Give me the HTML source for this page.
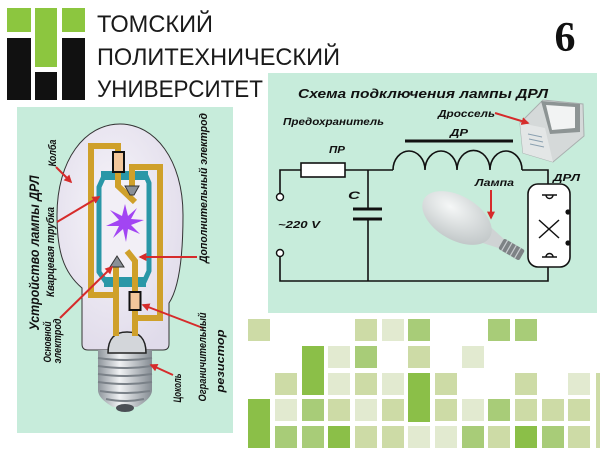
<!DOCTYPE html>
<html><head><meta charset="utf-8"><style>
html,body{margin:0;padding:0;background:#fff;}
svg{display:block;}
text{font-family:"Liberation Sans","DejaVu Sans",sans-serif;}
.bi{font-weight:bold;font-style:italic;fill:#111;}
</style></head><body>
<svg width="600" height="450" viewBox="0 0 600 450" xmlns="http://www.w3.org/2000/svg">
<defs>
<marker id="ar" viewBox="0 0 10 10" refX="8" refY="5" markerWidth="4" markerHeight="4" orient="auto"><path d="M0,0 L10,5 L0,10 z" fill="#d62b2b"/></marker>
<radialGradient id="bulbg" cx="0.45" cy="0.4" r="0.65"><stop offset="0" stop-color="#f7f5fa"/><stop offset="1" stop-color="#e0dbea"/></radialGradient>
<linearGradient id="thr" x1="0" y1="0" x2="1" y2="0"><stop offset="0" stop-color="#8e959c"/><stop offset="0.4" stop-color="#f0f2f4"/><stop offset="1" stop-color="#858c93"/></linearGradient>
<radialGradient id="lampg" cx="0.35" cy="0.35" r="0.75"><stop offset="0" stop-color="#f5f7f7"/><stop offset="1" stop-color="#bfc5c6"/></radialGradient>
</defs>

<!-- Logo -->
<rect x="7" y="8" width="24" height="24" fill="#8cc63f"/>
<rect x="35" y="8" width="22" height="59" fill="#8cc63f"/>
<rect x="62" y="8" width="23" height="24" fill="#8cc63f"/>
<rect x="7" y="38" width="24" height="62" fill="#111"/>
<rect x="35" y="72" width="22" height="28" fill="#111"/>
<rect x="62" y="38" width="23" height="62" fill="#111"/>
<text x="97" y="32" font-size="24" fill="#1a1a1a" textLength="116" lengthAdjust="spacingAndGlyphs">ТОМСКИЙ</text>
<text x="97" y="65" font-size="24" fill="#1a1a1a" textLength="243" lengthAdjust="spacingAndGlyphs">ПОЛИТЕХНИЧЕСКИЙ</text>
<text x="97" y="97" font-size="24" fill="#1a1a1a" textLength="166" lengthAdjust="spacingAndGlyphs">УНИВЕРСИТЕТ</text>
<text x="565" y="51" font-weight="bold" font-size="42" text-anchor="middle" fill="#111" style="font-family:'Liberation Serif',serif">6</text>

<!-- Panels -->
<rect x="17" y="107" width="216" height="326" fill="#c7ecdb"/>
<rect x="268" y="73" width="329" height="240" fill="#c7ecdb"/>

<!-- Left: bulb -->
<path d="M88,350 Q82,350 82,344 L82,288 C63,272 57,250 57,215 C57,160 85,124 120,124 C155,124 183,160 183,215 C183,258 179,288 169,303 L169,344 Q169,350 163,350 Z" fill="url(#bulbg)" stroke="#333" stroke-width="1"/>
<!-- base -->
<path d="M98,350 H152 V390 C152,398 142,404 137,407 H113 C108,404 98,398 98,390 Z" fill="url(#thr)"/>
<g stroke="#7a8188" stroke-width="2" fill="none">
<path d="M98,358 Q125,362 152,358"/><path d="M98,366 Q125,370 152,366"/><path d="M98,374 Q125,378 152,374"/><path d="M98,382 Q125,386 152,382"/><path d="M100,391 Q125,395 150,391"/><path d="M106,399 Q125,403 144,399"/>
</g>
<ellipse cx="125" cy="408" rx="9" ry="4" fill="#4a4f55"/>
<path d="M108,353 C108,339 114,332 127,332 C140,332 146,339 146,353 Z" fill="#d3d6da" stroke="#222" stroke-width="1.5"/>

<!-- quartz tube -->
<polygon points="104,176 146,176 149,183 149,271 144,282 106,282 99,272 99,187" fill="#f2eff6" stroke="#2a97a7" stroke-width="5" stroke-linejoin="round"/>
<rect x="101" y="171" width="47" height="9" fill="#2a97a7"/>
<rect x="104" y="277" width="42" height="10" fill="#2a97a7"/>

<!-- gold wires -->
<g fill="none" stroke="#cfa02a" stroke-width="6">
<path d="M118,152 V146 H91 V295 H116"/>
<path d="M118,172 V186 L135,202"/>
<path d="M132,188 V167 H160 V318 H135"/>
<path d="M116,266 V336"/>
<path d="M127,251 L135,261 V292"/>
<path d="M135,310 V336"/>
</g>
<rect x="113" y="152" width="11" height="20" fill="#f3c79b" stroke="#111" stroke-width="2"/>
<rect x="129.5" y="292" width="11" height="18" fill="#f3c79b" stroke="#111" stroke-width="2"/>
<!-- electrodes -->
<polygon points="125,186 139,186 134,195 130,195" fill="#8a9097" stroke="#333" stroke-width="1"/>
<polygon points="117,256 124,267 110,267" fill="#8a9097" stroke="#333" stroke-width="1"/>
<!-- star -->
<polygon points="125,204 128,216 137,208 131,219 144,220 131,225 140,234 128,229 126,242 123,229 113,238 119,226 106,226 119,220 110,210 122,216" fill="#a245f3"/>

<!-- red arrows left -->
<g stroke="#d62b2b" stroke-width="2" fill="none" marker-end="url(#ar)">
<line x1="56" y1="167" x2="71" y2="182"/>
<line x1="57" y1="222" x2="99" y2="197"/>
<line x1="60" y1="318" x2="112" y2="267"/>
<line x1="197" y1="257" x2="140" y2="257"/>
<line x1="203" y1="328" x2="143" y2="305"/>
<line x1="173" y1="375" x2="151" y2="365"/>
</g>

<!-- left texts -->
<text class="bi" font-size="14" text-anchor="middle" dy="0.35em" transform="translate(34,253) rotate(-90)" textLength="155" lengthAdjust="spacingAndGlyphs">Устройство лампы ДРЛ</text>
<text class="bi" font-size="11" text-anchor="middle" dy="0.35em" transform="translate(50,252) rotate(-90)" textLength="90" lengthAdjust="spacingAndGlyphs">Кварцевая трубка</text>
<text class="bi" font-size="11" text-anchor="middle" dy="0.35em" transform="translate(52,153) rotate(-90)" textLength="27" lengthAdjust="spacingAndGlyphs">Колба</text>
<text class="bi" font-size="11" text-anchor="middle" dy="0.35em" transform="translate(47,342) rotate(-90)" textLength="41" lengthAdjust="spacingAndGlyphs">Основной</text>
<text class="bi" font-size="11" text-anchor="middle" dy="0.35em" transform="translate(57,341) rotate(-90)" textLength="45" lengthAdjust="spacingAndGlyphs">электрод</text>
<text class="bi" font-size="11" text-anchor="middle" dy="0.35em" transform="translate(203,188) rotate(-90)" textLength="150" lengthAdjust="spacingAndGlyphs">Дополнительный электрод</text>
<text class="bi" font-size="11" text-anchor="middle" dy="0.35em" transform="translate(202,357) rotate(-90)" textLength="89" lengthAdjust="spacingAndGlyphs">Ограничительный</text>
<text class="bi" font-size="11" text-anchor="middle" dy="0.35em" transform="translate(220,361) rotate(-90)" textLength="63" lengthAdjust="spacingAndGlyphs">резистор</text>
<text class="bi" font-size="11" text-anchor="middle" dy="0.35em" transform="translate(177,388) rotate(-90)" textLength="29" lengthAdjust="spacingAndGlyphs">Цоколь</text>

<!-- Right: circuit -->
<text class="bi" x="298" y="98" font-size="12.5" textLength="250" lengthAdjust="spacingAndGlyphs">Схема подключения лампы ДРЛ</text>
<text class="bi" x="283" y="125" font-size="10" textLength="101" lengthAdjust="spacingAndGlyphs">Предохранитель</text>
<text class="bi" x="438" y="117" font-size="10" textLength="57" lengthAdjust="spacingAndGlyphs">Дроссель</text>
<text class="bi" x="450" y="136" font-size="10" textLength="18" lengthAdjust="spacingAndGlyphs">ДР</text>
<text class="bi" x="329" y="153" font-size="10" textLength="16" lengthAdjust="spacingAndGlyphs">ПР</text>
<text class="bi" x="348" y="199" font-size="11" textLength="12" lengthAdjust="spacingAndGlyphs">С</text>
<text class="bi" x="278" y="228" font-size="10" textLength="42" lengthAdjust="spacingAndGlyphs">~220 V</text>
<text class="bi" x="475" y="186" font-size="10" textLength="39" lengthAdjust="spacingAndGlyphs">Лампа</text>
<text class="bi" x="553" y="181" font-size="10" textLength="27" lengthAdjust="spacingAndGlyphs">ДРЛ</text>

<g stroke="#111" stroke-width="1.6" fill="none">
<path d="M280,193.5 V170 H301"/>
<path d="M345,170 H393"/>
<path d="M393,170 A16,19 0 0 1 425,170 A16,19 0 0 1 457,170 A16,19 0 0 1 490,170 A16,19 0 0 1 522,170"/>
<path d="M522,170 H548 V184"/>
<path d="M548,267 V281 H280 V256.5"/>
<path d="M368,170 V209"/>
<path d="M368,219 V281"/>
</g>
<line x1="405" y1="141" x2="513" y2="141" stroke="#111" stroke-width="3"/>
<line x1="353" y1="209" x2="382" y2="209" stroke="#111" stroke-width="3"/>
<line x1="353" y1="219" x2="382" y2="219" stroke="#111" stroke-width="3"/>
<rect x="301" y="163" width="44" height="14" fill="#fff" stroke="#111" stroke-width="1.6"/>
<circle cx="280" cy="197" r="3.5" fill="#fff" stroke="#111" stroke-width="1.4"/>
<circle cx="280" cy="253" r="3.5" fill="#fff" stroke="#111" stroke-width="1.4"/>

<!-- DRL symbol -->
<rect x="528" y="184" width="42" height="83" rx="10" fill="#fff" stroke="#111" stroke-width="1.6"/>
<g stroke="#111" stroke-width="1.5" fill="none">
<line x1="542" y1="195" x2="557" y2="195"/>
<path d="M546,195 A3.5,3.5 0 1 0 553,195"/>
<line x1="539" y1="220" x2="559" y2="238"/>
<line x1="559" y1="220" x2="539" y2="238"/>
<path d="M546,257 A3.5,3.5 0 1 1 553,257"/>
<line x1="542" y1="257" x2="557" y2="257"/>
</g>
<circle cx="568" cy="212" r="2.6" fill="#111"/>
<circle cx="568" cy="243" r="2.6" fill="#111"/>

<!-- lamp photo -->
<g transform="translate(457,218) rotate(30)">
<path d="M34,-9 L52,-5 L52,5 L34,9 Z" fill="#cfd3d4"/>
<rect x="51" y="-6" width="24" height="12" rx="2" fill="#7d8285"/>
<g stroke="#c9cdd0" stroke-width="1.2"><line x1="55" y1="-6" x2="55" y2="6"/><line x1="60" y1="-6" x2="60" y2="6"/><line x1="65" y1="-6" x2="65" y2="6"/><line x1="70" y1="-6" x2="70" y2="6"/></g>
<ellipse cx="0" cy="0" rx="38" ry="22" fill="url(#lampg)"/>
</g>

<!-- choke photo -->
<polygon points="520,123 543,100 583,104 584,136 553,162 523,153" fill="#d5d9d9" stroke="#a9afaf" stroke-width="1"/>
<polygon points="520,123 545,128 553,162 523,153" fill="#e3e6e6"/>
<polygon points="541,101 580,104 580,132 550,134" fill="#8d9494"/>
<polygon points="546,105 575,107 575,128 552,130" fill="#f2f3f3"/>
<g stroke="#8aa0b0" stroke-width="1"><line x1="528" y1="134" x2="542" y2="137"/><line x1="529" y1="139" x2="543" y2="142"/><line x1="530" y1="144" x2="544" y2="147"/></g>

<g stroke="#d62b2b" stroke-width="2" fill="none" marker-end="url(#ar)">
<line x1="495" y1="113" x2="528" y2="123"/>
<line x1="491" y1="190" x2="491" y2="218"/>
</g>

<!-- green grid -->
<g>
<rect x="248" y="319" width="22" height="22" fill="#cddba6"/>
<rect x="355" y="319" width="22" height="22" fill="#cddba6"/>
<rect x="382" y="319" width="22" height="22" fill="#e2ead0"/>
<rect x="408" y="319" width="22" height="22" fill="#a8cc78"/>
<rect x="488" y="319" width="22" height="22" fill="#a8cc78"/>
<rect x="515" y="319" width="22" height="22" fill="#a8cc78"/>

<rect x="302" y="346" width="22" height="49" fill="#8bbf48"/>
<rect x="328" y="346" width="22" height="22" fill="#e2ead0"/>
<rect x="355" y="346" width="22" height="22" fill="#a8cc78"/>
<rect x="408" y="346" width="22" height="22" fill="#cddba6"/>
<rect x="462" y="346" width="22" height="22" fill="#e2ead0"/>

<rect x="275" y="373" width="22" height="22" fill="#cddba6"/>
<rect x="328" y="373" width="22" height="22" fill="#e2ead0"/>
<rect x="355" y="373" width="22" height="22" fill="#cddba6"/>
<rect x="382" y="373" width="22" height="22" fill="#e2ead0"/>
<rect x="408" y="373" width="22" height="49" fill="#8bbf48"/>
<rect x="435" y="373" width="22" height="22" fill="#cddba6"/>
<rect x="515" y="373" width="22" height="22" fill="#cddba6"/>
<rect x="568" y="373" width="22" height="22" fill="#e2ead0"/>
<rect x="596" y="373" width="4" height="75" fill="#cddba6"/>

<rect x="248" y="399" width="22" height="49" fill="#8bbf48"/>
<rect x="275" y="399" width="22" height="22" fill="#e2ead0"/>
<rect x="302" y="399" width="22" height="22" fill="#a8cc78"/>
<rect x="328" y="399" width="22" height="22" fill="#cddba6"/>
<rect x="355" y="399" width="22" height="22" fill="#e2ead0"/>
<rect x="382" y="399" width="22" height="22" fill="#cddba6"/>
<rect x="435" y="399" width="22" height="22" fill="#cddba6"/>
<rect x="462" y="399" width="22" height="22" fill="#e2ead0"/>
<rect x="488" y="399" width="22" height="22" fill="#a8cc78"/>
<rect x="515" y="399" width="22" height="22" fill="#cddba6"/>
<rect x="542" y="399" width="22" height="22" fill="#cddba6"/>
<rect x="568" y="399" width="22" height="22" fill="#cddba6"/>

<rect x="275" y="426" width="22" height="22" fill="#a8cc78"/>
<rect x="302" y="426" width="22" height="22" fill="#a8cc78"/>
<rect x="328" y="426" width="22" height="22" fill="#8bbf48"/>
<rect x="355" y="426" width="22" height="22" fill="#cddba6"/>
<rect x="382" y="426" width="22" height="22" fill="#cddba6"/>
<rect x="408" y="426" width="22" height="22" fill="#e2ead0"/>
<rect x="435" y="426" width="22" height="22" fill="#e2ead0"/>
<rect x="462" y="426" width="22" height="22" fill="#a8cc78"/>
<rect x="488" y="426" width="22" height="22" fill="#cddba6"/>
<rect x="515" y="426" width="22" height="22" fill="#8bbf48"/>
<rect x="542" y="426" width="22" height="22" fill="#a8cc78"/>
<rect x="568" y="426" width="22" height="22" fill="#cddba6"/>
</g>
</svg>
</body></html>
